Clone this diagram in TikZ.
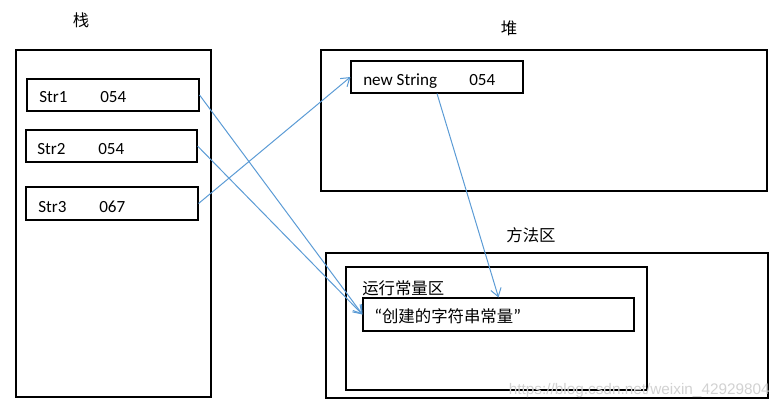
\documentclass[tikz,border=0pt]{standalone}
\usepackage{fontspec}
\setmainfont{Carlito}
\newfontfamily\cjk{Noto Sans CJK SC}
\newfontfamily\wmfont{Liberation Sans}
\usetikzlibrary{arrows.meta,fit}
\definecolor{linkblue}{RGB}{91,155,213}
\begin{document}
\begin{tikzpicture}[x=0.75pt,y=-0.75pt,
  area/.style={draw=black, line width=1.6pt, inner sep=0pt},
  cell/.style={draw=black, line width=0.8pt, inner sep=0pt},
  lab/.style={font=\fontsize{12.8}{14}\selectfont, inner sep=0pt, anchor=base west},
  cjklab/.style={font=\cjk\fontsize{12.3}{14}\selectfont, inner sep=0pt},
  link/.style={draw=linkblue, line width=0.75pt, -{Straight Barb[length=6pt,width=8pt,line width=0.75pt]}}]
\useasboundingbox (0,0) rectangle (781,410);
% stack
\node[area, fit={(16,50) (211,397)}] (stack) {};
\node[cjklab] (stacklab) at (81,20) {栈};
\node[cell, fit={(27,79) (199,111)}] (s1) {};
\node[cell, fit={(26,130) (197,162)}] (s2) {};
\node[cell, fit={(26,187) (198,220)}] (s3) {};
\node[lab] (s1n) at (39,103) {Str1};
\node[lab] (s1v) at (100,103) {054};
\node[lab] (s2n) at (37,154) {Str2};
\node[lab] (s2v) at (98,154) {054};
\node[lab] (s3n) at (38,212) {Str3};
\node[lab] (s3v) at (99,212) {067};
% heap
\node[area, fit={(321,50) (767,191)}] (heap) {};
\node[cjklab] (heaplab) at (509,28) {堆};
\node[cell, fit={(351,61) (523,93)}] (ns) {};
\node[lab] (nsn) at (363,85) {new String};
\node[lab] (nsv) at (469,85) {054};
% method area
\node[area, fit={(326,253) (768,398)}] (method) {};
\node[cjklab] (methodlab) at (531,235) {方法区};
\node[area, fit={(346,267) (647,390)}] (pool) {};
\node[cjklab, anchor=west] (poollab) at (362,288) {运行常量区};
\node[cell, fit={(363,298) (634,331)}] (cst) {};
\node[cjklab, anchor=west] (cstlab) at (374,316) {{\rmfamily\fontsize{14}{14}\selectfont “}创建的字符串常量{\rmfamily\fontsize{14}{14}\selectfont ”}};
% watermark
\node[font=\wmfont\fontsize{11.5}{13}\selectfont, text=gray!35, inner sep=0pt, anchor=east] (wm) at (770,391) {https://blog.csdn.net/weixin\_42929804};
% links
\draw[link] (s1.east) -- (cst.west);
\draw[link] (s2.east) -- (cst.west);
\draw[link] (s3.east) -- (ns.west);
\draw[link] (ns.south) -- (cst.north);
\end{tikzpicture}
\end{document}
